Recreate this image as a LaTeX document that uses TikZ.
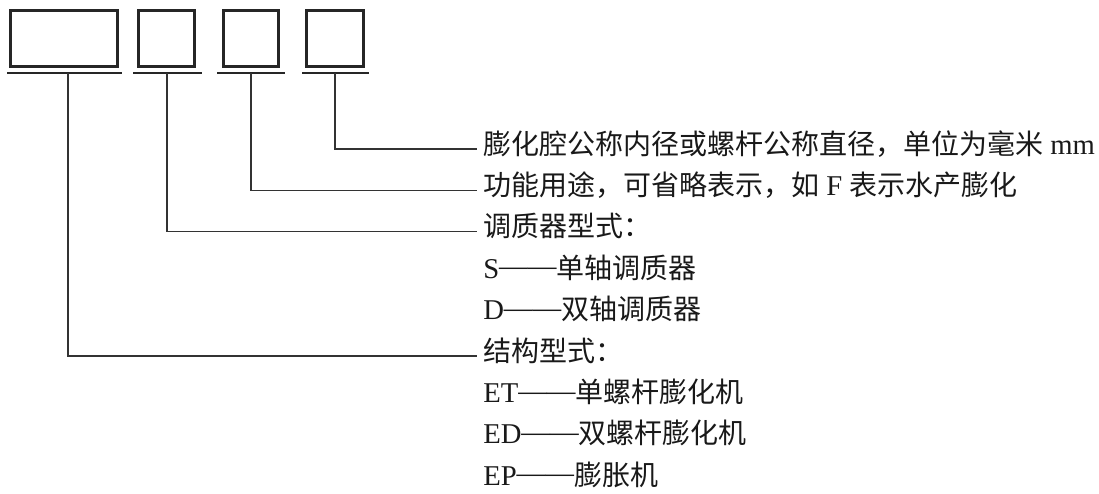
\documentclass[tikz,border=0pt]{standalone}
\usepackage{fontspec}
\setmainfont{Liberation Serif}
\newfontfamily\cjk{Noto Sans CJK SC}
\newcommand{\latn}[1]{{\fontsize{21.5}{25}\selectfont #1}}
\newcommand{\ddash}{\raisebox{0.08em}{——}}
\begin{document}
\begin{tikzpicture}[x=0.75pt,y=-0.75pt,
  codebox/.style={draw=black!85,line width=2.2pt,inner sep=0pt,minimum height=42pt},
  baseline rule/.style={draw=black!85,line width=2pt},
  leader/.style={draw=black!80,line width=0.9pt},
  label/.style={anchor=west,inner sep=0pt,text height=0.88em,text depth=0.12em,
    font=\fontsize{21}{25}\selectfont,text=black!90}]
\useasboundingbox (0,0) rectangle (1099,493);
% code boxes
\node[codebox,minimum width=80.25pt] (b1) at (64,38.2) {};
\node[codebox,minimum width=42.4pt] (b2) at (166.3,38.2) {};
\node[codebox,minimum width=41.6pt] (b3) at (250.8,38.2) {};
\node[codebox,minimum width=42.8pt] (b4) at (334.7,38.7) {};
% underlines
\coordinate (l1a) at (7,73);   \coordinate (l1b) at (122,73);
\coordinate (l2a) at (133,73); \coordinate (l2b) at (202,73);
\coordinate (l3a) at (217,73); \coordinate (l3b) at (285,73);
\coordinate (l4a) at (302,73); \coordinate (l4b) at (369,73);
\draw[baseline rule] (l1a) -- (l1b);
\draw[baseline rule] (l2a) -- (l2b);
\draw[baseline rule] (l3a) -- (l3b);
\draw[baseline rule] (l4a) -- (l4b);
\coordinate (u1) at (68,73);
\coordinate (u2) at (167,73);
\coordinate (u3) at (251,73);
\coordinate (u4) at (335,73);
% texts
\node[label] (t4) at (483,149) {{\cjk 膨化腔公称内径或螺杆公称直径，单位为毫米} \latn{mm}};
\node[label] (t3) at (483,190.4) {{\cjk 功能用途，可省略表示，如} \latn{F} {\cjk 表示水产膨化}};
\node[label] (t2) at (483,231.8) {\cjk 调质器型式：};
\node[label] (s1) at (483,273.2) {\latn{S\ddash}{\cjk 单轴调质器}};
\node[label] (s2) at (483,314.6) {\latn{D\ddash}{\cjk 双轴调质器}};
\node[label] (t1) at (483,356) {\cjk 结构型式：};
\node[label] (e1) at (483,397.4) {\latn{ET\ddash}{\cjk 单螺杆膨化机}};
\node[label] (e2) at (483,438.8) {\latn{ED\ddash}{\cjk 双螺杆膨化机}};
\node[label] (e3) at (483,480.2) {\latn{EP\ddash}{\cjk 膨胀机}};
% leaders
\draw[leader] (u4) |- ([xshift=-4.5pt]t4.west);
\draw[leader] (u3) |- ([xshift=-4.5pt]t3.west);
\draw[leader] (u2) |- ([xshift=-4.5pt]t2.west);
\draw[leader] (u1) |- ([xshift=-4.5pt]t1.west);
\end{tikzpicture}
\end{document}
